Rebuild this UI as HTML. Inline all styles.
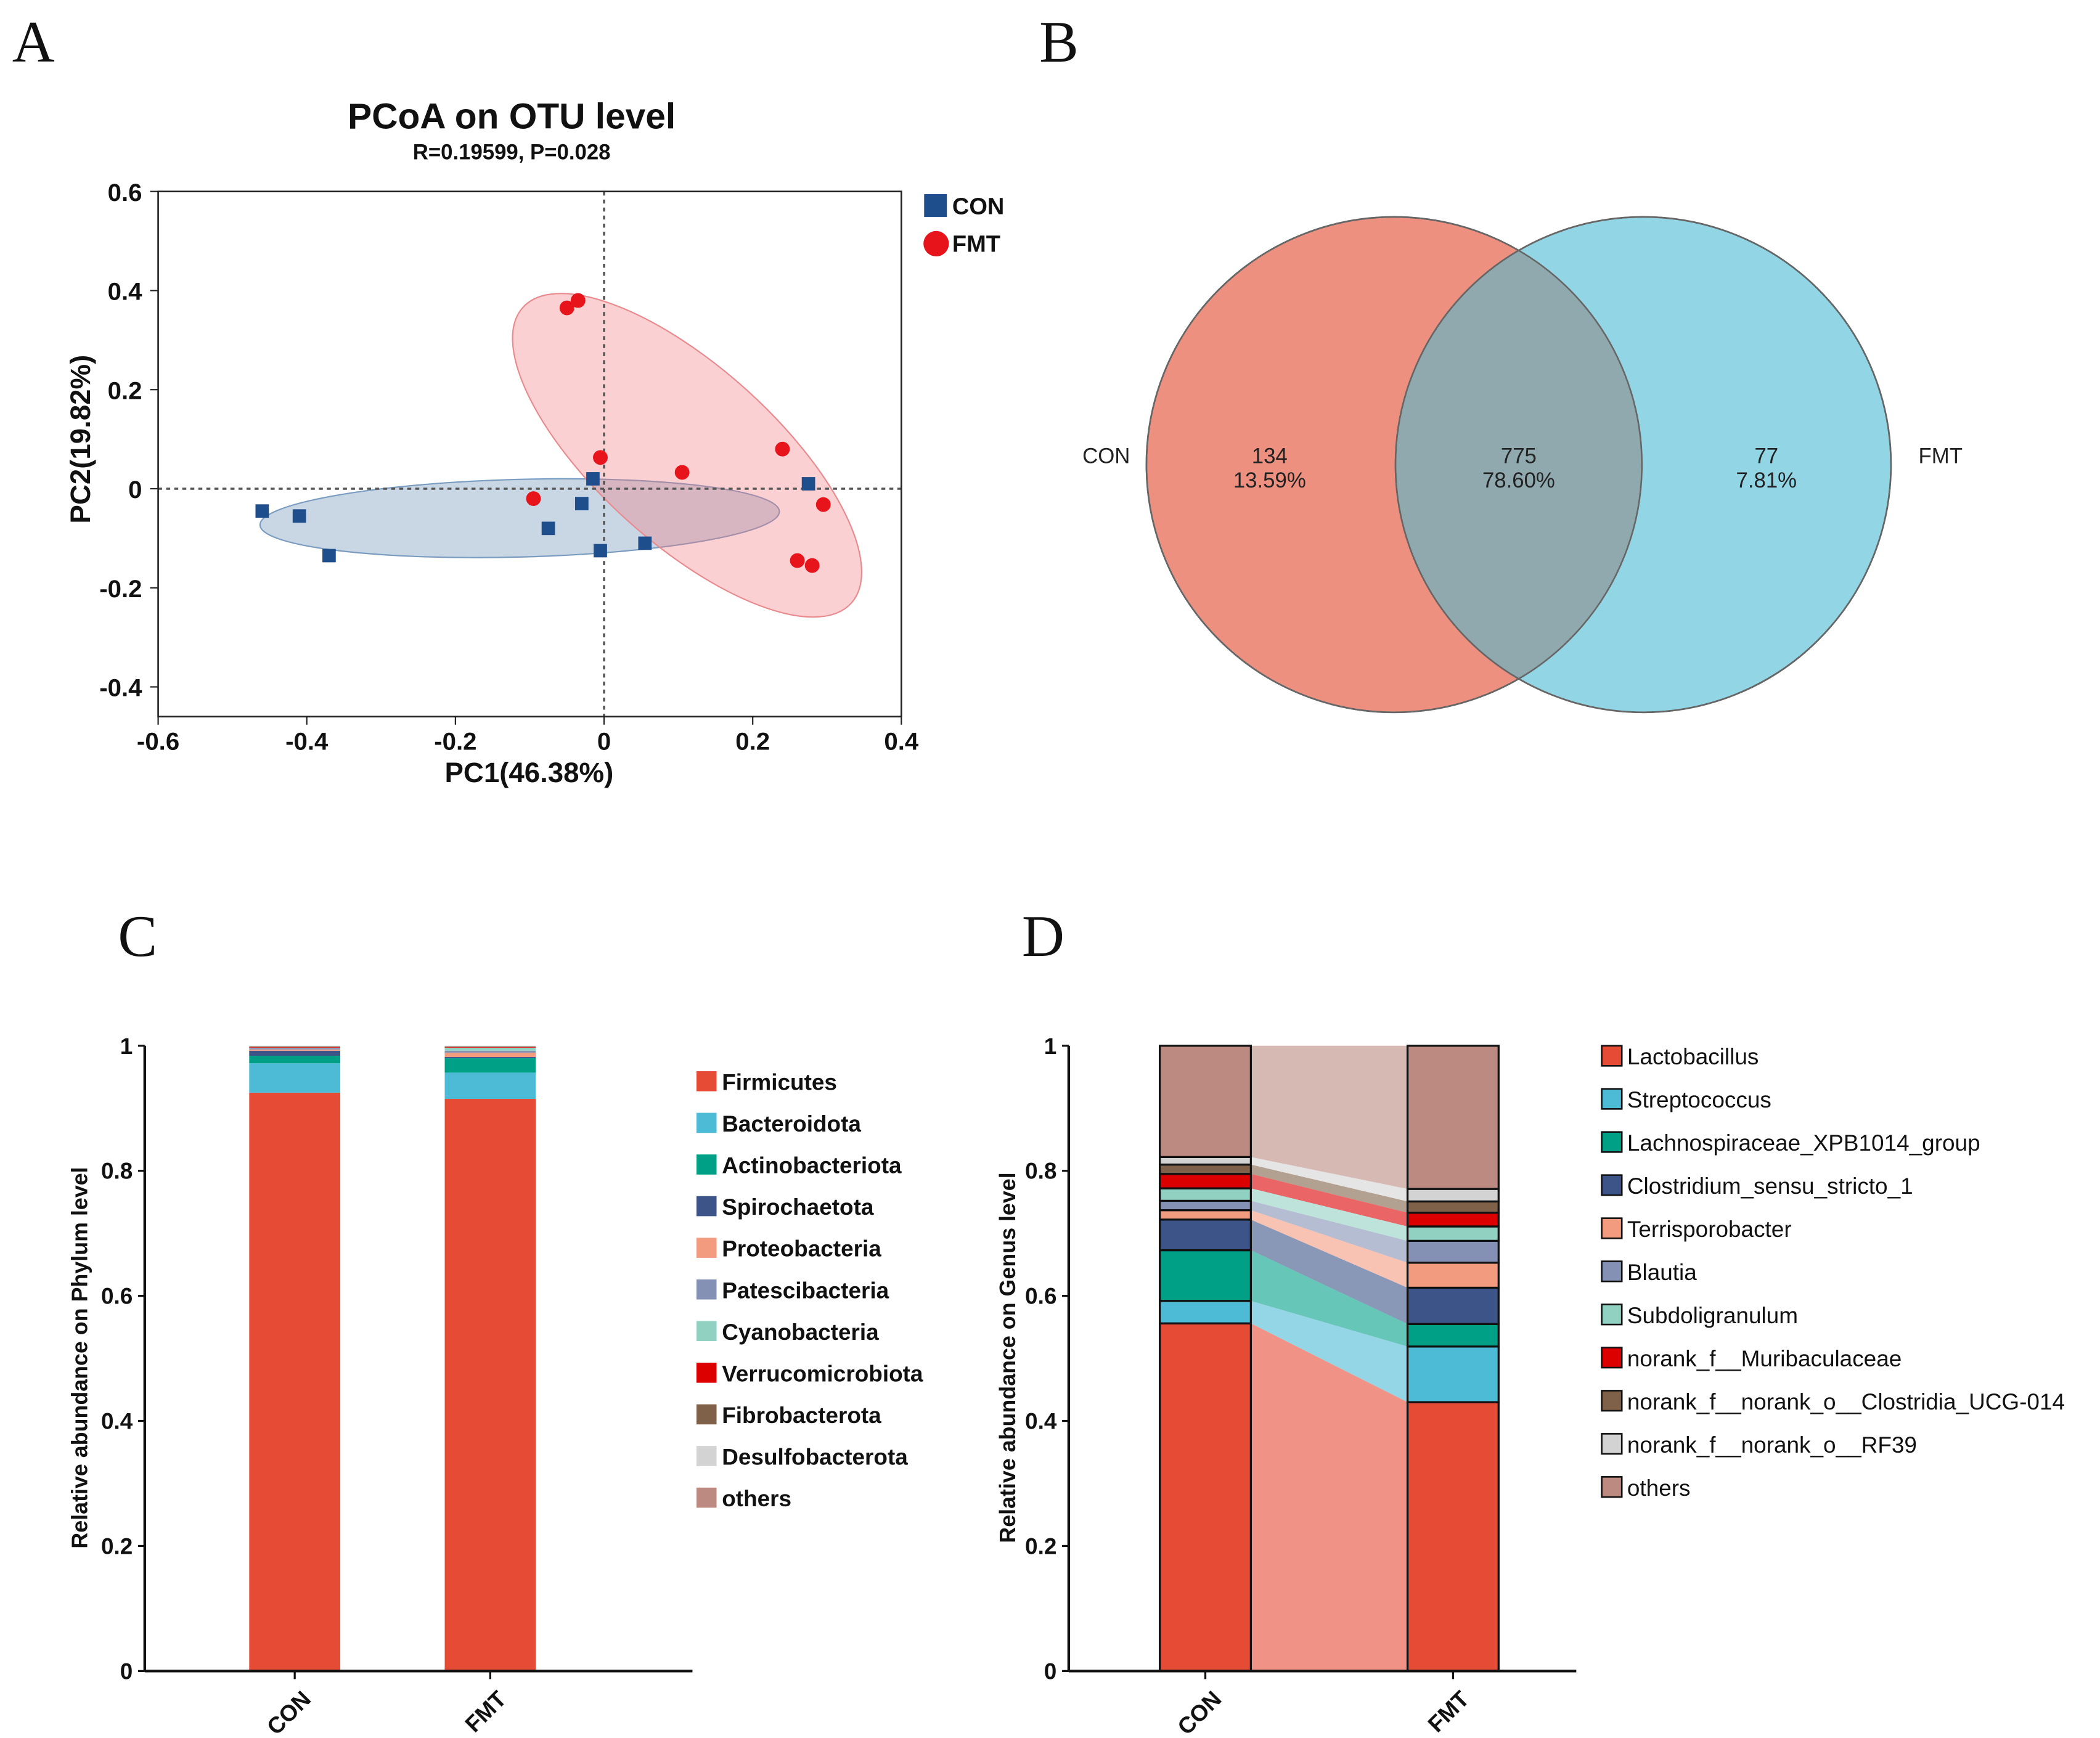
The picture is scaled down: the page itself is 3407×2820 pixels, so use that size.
<!DOCTYPE html>
<html><head><meta charset="utf-8"><style>
html,body{margin:0;padding:0;background:#fff}
svg{display:block}
text{font-family:"Liberation Sans",Arial,sans-serif}
</style></head><body>
<svg id="fig" width="3407" height="2820" viewBox="0 0 1568 1298" xmlns="http://www.w3.org/2000/svg">
<rect width="1568" height="1298" fill="#fff"/>
<g font-size="44" fill="#111">
<text x="9" y="46" style="font-family:'Liberation Serif',serif">A</text>
<text x="776" y="46" style="font-family:'Liberation Serif',serif">B</text>
<text x="88" y="714" style="font-family:'Liberation Serif',serif">C</text>
<text x="763" y="714" style="font-family:'Liberation Serif',serif">D</text>
</g>
<g id="pA"></g>
<g id="pB"></g>
<g id="pC"></g>
<g id="pD"></g>
</svg>
<script>
// ---- Panel A data ----
const conX=[-0.46,-0.41,-0.37,-0.075,-0.03,-0.015,-0.005,0.055,0.275];
const conY=[-0.045,-0.055,-0.135,-0.08,-0.03,0.02,-0.125,-0.11,0.01];
const fmtX=[-0.05,-0.035,-0.095,-0.005,0.105,0.24,0.295,0.26,0.28];
const fmtY=[0.365,0.38,-0.02,0.063,0.033,0.08,-0.032,-0.145,-0.155];
const aXTicks=[-0.6,-0.4,-0.2,0,0.2,0.4];
const aYTicks=[0.6,0.4,0.2,0,-0.2,-0.4];
// ---- Panel B data ----
const vennCounts=[134,775,77];
const vennPct=["13.59%","78.60%","7.81%"];
// ---- Panel C data ----
const phyla=["Firmicutes","Bacteroidota","Actinobacteriota","Spirochaetota","Proteobacteria","Patescibacteria","Cyanobacteria","Verrucomicrobiota","Fibrobacterota","Desulfobacterota","others"];
const phylumCON=[0.925,0.047,0.012,0.008,0.002,0.002,0.001,0.001,0.001,0.001,0.0];
const phylumFMT=[0.915,0.042,0.023,0.002,0.007,0.003,0.005,0.001,0.001,0.001,0.0];
// ---- Panel D data ----
const genera=["Lactobacillus","Streptococcus","Lachnospiraceae_XPB1014_group","Clostridium_sensu_stricto_1","Terrisporobacter","Blautia","Subdoligranulum","norank_f__Muribaculaceae","norank_f__norank_o__Clostridia_UCG-014","norank_f__norank_o__RF39","others"];
const genusCON=[0.556,0.036,0.081,0.049,0.015,0.015,0.020,0.023,0.015,0.012,0.178];
const genusFMT=[0.430,0.089,0.036,0.058,0.040,0.035,0.023,0.022,0.018,0.020,0.229];
const groups=["CON","FMT"];
const pal=["#E64B35","#4DBBD5","#00A087","#3C5488","#F39B7F","#8491B4","#91D1C2","#DC0000","#7E6148","#D3D3D3","#BC8A80"];

const NS="http://www.w3.org/2000/svg";
function mk(p,t,a,txt){const e=document.createElementNS(NS,t);for(const k in a)e.setAttribute(k,a[k]);if(txt!==undefined)e.textContent=txt;p.appendChild(e);return e;}

// ===== Panel A =====
(function(){
const g=document.getElementById('pA');
const X=v=>451+(v)*555, Y=v=>365-(v)*370;
const t1=mk(g,'text',{x:382,y:96,'text-anchor':'middle','font-size':27,'font-weight':'bold',fill:'#111'},'PCoA on OTU level');

const t2=mk(g,'text',{x:382,y:119,'text-anchor':'middle','font-size':16,'font-weight':'bold',fill:'#111'},'R=0.19599, P=0.028');

const e1=mk(g,'ellipse',{cx:388,cy:387,rx:194,ry:29,transform:'rotate(-1.5 388 387)',fill:'rgba(120,155,190,0.4)',stroke:'#7a9cc0','stroke-width':1});

const e2=mk(g,'ellipse',{cx:513,cy:340,rx:165,ry:66,transform:'rotate(42 513 340)',fill:'rgba(240,120,125,0.35)',stroke:'#e88a8e','stroke-width':1});

mk(g,'line',{x1:X(-0.6),x2:X(0.4),y1:Y(0),y2:Y(0),stroke:'#555','stroke-width':1.6,'stroke-dasharray':'3,3'});
mk(g,'line',{x1:X(0),x2:X(0),y1:Y(0.6),y2:Y(-0.46),stroke:'#555','stroke-width':1.6,'stroke-dasharray':'3,3'});
const fr=mk(g,'rect',{x:X(-0.6),y:Y(0.6),width:X(0.4)-X(-0.6),height:Y(-0.46)-Y(0.6),fill:'none',stroke:'#222','stroke-width':1.2});

aXTicks.forEach(v=>{mk(g,'line',{x1:X(v),x2:X(v),y1:Y(-0.46),y2:Y(-0.46)+6,stroke:'#222'});
 const t=mk(g,'text',{x:X(v),y:560,'text-anchor':'middle','font-size':18.5,'font-weight':'bold',fill:'#111'},v===0?'0':v.toFixed(1));
 });
aYTicks.forEach(v=>{mk(g,'line',{x1:X(-0.6)-6,x2:X(-0.6),y1:Y(v),y2:Y(v),stroke:'#222'});
 const t=mk(g,'text',{x:106,y:Y(v)+7,'text-anchor':'end','font-size':18.5,'font-weight':'bold',fill:'#111'},v===0?'0':v.toFixed(1));
 });
const xl=mk(g,'text',{x:395,y:584,'text-anchor':'middle','font-size':21,'font-weight':'bold',fill:'#111'},'PC1(46.38%)');

const yl=mk(g,'text',{x:0,y:0,transform:'translate(67 328) rotate(-90)','text-anchor':'middle','font-size':21,'font-weight':'bold',fill:'#111'},'PC2(19.82%)');

conX.forEach((v,i)=>{const r=mk(g,'rect',{x:X(v)-5,y:Y(conY[i])-5,width:10,height:10,fill:'#1f4e8c'});
 });
fmtX.forEach((v,i)=>{const c=mk(g,'circle',{cx:X(v),cy:Y(fmtY[i]),r:5.5,fill:'#e8141c'});
 });
const l1=mk(g,'rect',{x:690,y:145,width:17,height:17,fill:'#1f4e8c'});
const l1t=mk(g,'text',{x:711,y:160,'font-size':17.5,'font-weight':'bold',fill:'#111'},'CON');
const l2=mk(g,'circle',{cx:699,cy:182,r:9.5,fill:'#e8141c'});
const l2t=mk(g,'text',{x:711,y:188,'font-size':17.5,'font-weight':'bold',fill:'#111'},'FMT');
})();

// ===== Panel B =====
(function(){
const g=document.getElementById('pB');
const c1=mk(g,'circle',{cx:1041,cy:347,r:185,fill:'#EE9080',stroke:'#666','stroke-width':1.2});

const c2=mk(g,'circle',{cx:1227,cy:347,r:185,fill:'#92D5E5',stroke:'#666','stroke-width':1.2});

mk(g,'clipPath',{id:'clipL'}).appendChild(document.createElementNS(NS,'circle'));
const cp=document.querySelector('#clipL circle');cp.setAttribute('cx',1041);cp.setAttribute('cy',347);cp.setAttribute('r',185);
const ov=mk(g,'circle',{cx:1227,cy:347,r:185,fill:'#8FA9AE','clip-path':'url(#clipL)'});

mk(g,'circle',{cx:1041,cy:347,r:185,fill:'none',stroke:'#666','stroke-width':1.2});
mk(g,'circle',{cx:1227,cy:347,r:185,fill:'none',stroke:'#666','stroke-width':1.2});
const xs=[948,1134,1319];
vennCounts.forEach((n,i)=>{const t=mk(g,'text',{x:xs[i],y:346,'text-anchor':'middle','font-size':16,fill:'#222'},String(n));
 
 const p=mk(g,'text',{x:xs[i],y:364,'text-anchor':'middle','font-size':16,fill:'#222'},vennPct[i]);
 });
const a=mk(g,'text',{x:826,y:346,'text-anchor':'middle','font-size':16,fill:'#222'},'CON');
const b=mk(g,'text',{x:1449,y:346,'text-anchor':'middle','font-size':16,fill:'#222'},'FMT');
})();

// ===== stacked bar helper =====
function stacked(g,ax,axEnd,bars,vals,labels,bold,outline,flows,legX,legY0,legDy,yTitle,yTitleX){
 const Y=v=>1248-v*467;
 const ticks=[0,0.2,0.4,0.6,0.8,1];
 if(flows){
  const cum0=[0],cum1=[0];
  vals[0].forEach((v,i)=>cum0.push(cum0[i]+v));vals[1].forEach((v,i)=>cum1.push(cum1[i]+v));
  for(let i=0;i<vals[0].length;i++){
   const p=mk(g,'polygon',{points:`${bars[0]+68},${Y(cum0[i])} ${bars[1]},${Y(cum1[i])} ${bars[1]},${Y(Math.min(1,cum1[i+1]))} ${bars[0]+68},${Y(Math.min(1,cum0[i+1]))}`,fill:pal[i],'fill-opacity':0.6});
   
  }
 }
 vals.forEach((arr,b)=>{let c=0;
  arr.forEach((v,i)=>{let top=Math.min(1,c+v);if(i===arr.length-1)top=1;
   const r=mk(g,'rect',{x:bars[b],y:Y(top),width:68,height:Math.max(0,Y(c)-Y(top)),fill:pal[i]});
   if(outline){r.setAttribute('stroke','#111');r.setAttribute('stroke-width',1.5);}
   
   c=top;});
  const t=mk(g,'text',{x:0,y:0,transform:`translate(${bars[b]+47} ${1270}) rotate(-45)`,'text-anchor':'end','font-size':17,'font-weight':'bold',fill:'#111'},groups[b]);
  
  mk(g,'line',{x1:bars[b]+34,x2:bars[b]+34,y1:1248,y2:1254,stroke:'#111','stroke-width':1.5});
 });
 mk(g,'line',{x1:ax,x2:ax,y1:Y(1),y2:Y(0),stroke:'#111','stroke-width':2});
 mk(g,'line',{x1:ax,x2:axEnd,y1:Y(0),y2:Y(0),stroke:'#111','stroke-width':2});
 ticks.forEach(v=>{mk(g,'line',{x1:ax-5,x2:ax,y1:Y(v),y2:Y(v),stroke:'#111','stroke-width':1.5});
  const t=mk(g,'text',{x:ax-9,y:Y(v)+6,'text-anchor':'end','font-size':17,'font-weight':'bold',fill:'#111'},String(v));
  });
 const yt=mk(g,'text',{x:0,y:0,transform:`translate(${yTitleX} 1014) rotate(-90)`,'text-anchor':'middle','font-size':16.5,'font-weight':'bold',fill:'#111'},yTitle);
 
 labels.forEach((l,i)=>{const y=legY0+i*legDy;
  const s=mk(g,'rect',{x:legX,y:y-8,width:15,height:15,fill:pal[i]});
  if(outline){s.setAttribute('stroke','#111');s.setAttribute('stroke-width',1.2);}
  
  const t=mk(g,'text',{x:legX+19,y:y+6,'font-size':17,'font-weight':bold?'bold':'normal',fill:'#111'},l);
  });
}
stacked(document.getElementById('pC'),108,517,[186,332],[phylumCON,phylumFMT],phyla,true,false,false,520,808,31.1,'Relative abundance on Phylum level',65);
stacked(document.getElementById('pD'),798,1177,[866,1051],[genusCON,genusFMT],genera,false,true,true,1196,789,32.2,'Relative abundance on Genus level',758);
</script>
</body></html>
